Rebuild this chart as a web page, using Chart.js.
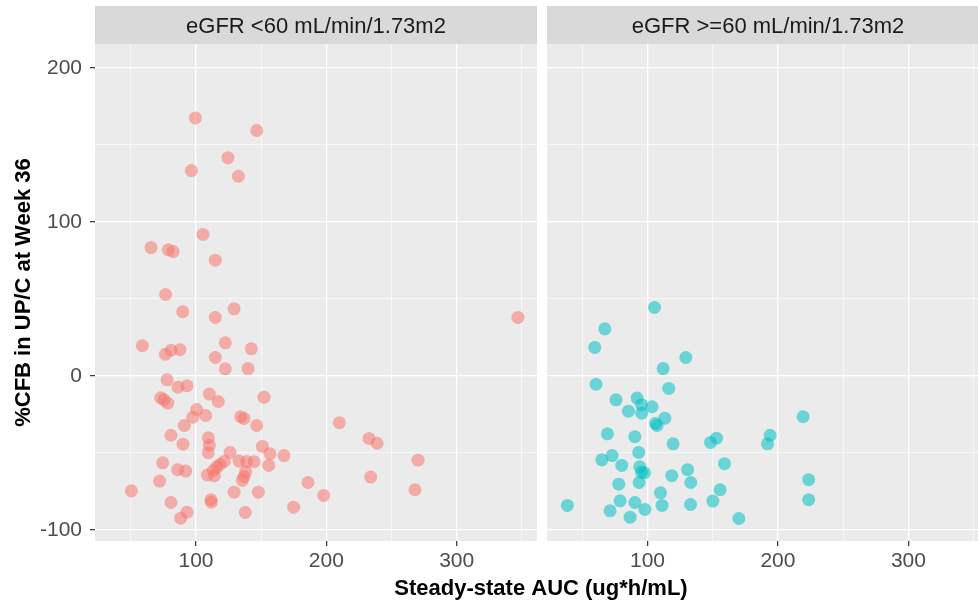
<!DOCTYPE html>
<html>
<head>
<meta charset="utf-8">
<script src="https://cdn.jsdelivr.net/npm/chart.js@4/dist/chart.umd.min.js"></script>
<style>
  body { margin: 0; background: white; }
  #wrap { position: relative; width: 978px; height: 602px; }
  #wrap canvas { position: absolute; left: 0; top: 0; }
</style>
</head>
<body>
<div id="wrap">
  <canvas id="low" width="978" height="602"></canvas>
  <canvas id="high" width="978" height="602"></canvas>
</div>
<script>
// eGFR <60 panel
var lowAuc = [99.5, 146.6, 124.5, 96.4, 132.5, 105.4, 65.5, 78.8, 82.4, 114.8,
  76.7, 89.8, 114.8, 129.2, 58.8, 76.5, 80.8, 87.7, 122.5, 114.8,
  142.4, 122.5, 139.9, 77.8, 86.2, 93.1, 110.2, 117.1, 152.2, 72.9,
  75.5, 78.3, 100.5, 97.5, 107.4, 134.3, 136.8, 146.6, 91.0, 80.8,
  90.0, 109.4, 110.2, 109.4, 150.9, 156.8, 167.5, 126.1, 133.0, 138.9,
  144.5, 121.7, 118.4, 115.9, 113.3, 155.8, 74.4, 85.9, 92.1, 108.7,
  114.1, 138.1, 136.8, 135.5, 72.1, 50.4, 129.2, 147.8, 185.9, 197.9,
  80.8, 111.5, 111.7, 174.9, 93.1, 88.2, 137.8, 347.0, 210.0, 232.7,
  238.9, 270.3, 234.0, 268.0];
var lowCfb = [167.5, 159.3, 141.6, 133.3, 129.6, 91.8, 83.3, 81.8, 80.7, 75.1,
  52.8, 41.6, 37.9, 43.5, 19.5, 14.0, 16.6, 16.9, 21.4, 11.9,
  17.5, 4.5, 4.7, -2.6, -7.4, -6.5, -11.9, -16.7, -13.9, -14.3,
  -15.6, -17.8, -21.9, -26.9, -25.8, -26.6, -27.7, -32.3, -32.3, -38.6,
  -44.4, -40.3, -45.1, -50.0, -45.9, -50.6, -51.8, -49.8, -55.4, -55.6,
  -55.8, -55.6, -57.6, -59.3, -61.5, -58.2, -56.5, -61.0, -61.9, -64.5,
  -64.9, -62.3, -65.4, -68.0, -68.4, -74.7, -75.6, -75.6, -69.3, -77.7,
  -82.3, -80.5, -82.1, -85.3, -88.6, -92.5, -88.8, 37.9, -30.5, -40.7,
  -43.8, -54.8, -65.8, -74.0];

// eGFR >=60 panel
var highAuc = [105.4, 67.3, 59.6, 129.4, 112.0, 60.6, 116.3, 75.9, 92.0, 95.4,
  103.5, 85.4, 95.6, 113.3, 106.1, 107.4, 219.3, 69.3, 90.3, 119.6,
  148.3, 152.9, 192.0, 194.0, 93.3, 72.9, 65.0, 80.3, 94.1, 95.4,
  97.7, 159.0, 130.7, 118.6, 133.2, 93.6, 78.0, 223.5, 155.7, 110.0,
  223.5, 38.6, 79.0, 90.3, 111.2, 133.0, 150.1, 71.3, 98.0, 86.7,
  170.0];
var highCfb = [44.4, 30.5, 18.4, 11.9, 4.7, -5.5, -8.2, -15.6, -14.5, -18.8,
  -20.1, -23.0, -24.3, -27.5, -31.0, -32.3, -26.6, -37.7, -39.6, -44.2,
  -43.3, -40.5, -44.2, -38.6, -49.8, -51.8, -54.6, -58.2, -59.1, -62.6,
  -63.0, -57.1, -61.0, -64.9, -69.3, -69.3, -70.4, -67.5, -74.0, -76.0,
  -80.5, -84.2, -81.2, -82.3, -84.2, -83.6, -81.4, -87.7, -86.8, -91.8,
  -92.7];

var xTicks = [50, 100, 150, 200, 250, 300, 350];
var xLabels = [100, 200, 300];
var yTicks = [-100, -50, 0, 50, 100, 150, 200];
var yLabels = [-100, 0, 100, 200];

var FONT = '"Liberation Sans", Arial, sans-serif';

function toPoints(xs, ys) {
  return xs.map(function (x, i) { return {x: x, y: ys[i]}; });
}

var facet = {
  id: 'facet',
  beforeDraw: function (chart, args, opts) {
    var ctx = chart.ctx, a = chart.chartArea;
    ctx.save();
    ctx.fillStyle = '#EBEBEB';
    ctx.fillRect(a.left, a.top, a.right - a.left, a.bottom - a.top);
    ctx.fillStyle = '#D9D9D9';
    ctx.fillRect(a.left, 6, a.right - a.left, a.top - 6);
    ctx.fillStyle = '#1A1A1A';
    ctx.font = '22px ' + FONT;
    ctx.textAlign = 'center';
    ctx.textBaseline = 'middle';
    ctx.fillText(opts.label, opts.cx, 27);
    if (opts.xTitle) {
      ctx.fillStyle = '#000';
      ctx.font = 'bold 22px ' + FONT;
      ctx.fillText(opts.xTitle, 541, 589);
    }
    ctx.restore();
  }
};

function gridWidth(c) {
  return c.tick && c.tick.value % 100 === 0 ? 1.3 : 0.6;
}
function tickCol(c) {
  return c.tick && c.tick.value % 100 === 0 ? '#333333' : 'rgba(0,0,0,0)';
}

function scales(xmin, xmax, showY) {
  return {
    x: {
      type: 'linear', min: xmin, max: xmax,
      afterBuildTicks: function (s) { s.ticks = xTicks.map(function (v) { return {value: v}; }); },
      afterFit: function (s) { s.height = 61; s.paddingLeft = 0; s.paddingRight = 0; },
      border: { display: false },
      grid: { color: 'white', lineWidth: gridWidth, tickColor: tickCol, tickWidth: 1.2, tickLength: 5 },
      ticks: {
        color: '#4D4D4D', font: { family: FONT, size: 21 }, padding: 3, maxRotation: 0,
        callback: function (v) { return xLabels.indexOf(v) >= 0 ? String(v) : ''; }
      }
    },
    y: {
      type: 'linear', min: -107.3, max: 215.5,
      afterBuildTicks: function (s) { s.ticks = yTicks.map(function (v) { return {value: v}; }); },
      afterFit: function (s) { s.width = showY ? 95 : 0; s.paddingTop = 0; s.paddingBottom = 0; },
      border: { display: false },
      grid: { color: 'white', lineWidth: gridWidth, tickColor: tickCol, tickWidth: 1.2,
              tickLength: 5, drawTicks: showY },
      title: {
        display: showY, text: '%CFB in UP/C at Week 36', color: '#000',
        font: { family: FONT, size: 22, weight: 'bold' }, padding: { top: 11, bottom: 0 }
      },
      ticks: {
        display: showY, color: '#4D4D4D', font: { family: FONT, size: 21 }, padding: 8,
        callback: function (v) { return yLabels.indexOf(v) >= 0 ? String(v) : ''; }
      }
    }
  };
}

new Chart(document.getElementById('low'), {
  type: 'scatter',
  data: {
    datasets: [{
      label: 'eGFR <60',
      data: toPoints(lowAuc, lowCfb),
      pointRadius: 6.5,
      borderWidth: 0,
      backgroundColor: 'rgba(248,118,109,0.55)'
    }]
  },
  options: {
    responsive: false, animation: false, devicePixelRatio: 1,
    layout: { autoPadding: false, padding: { left: 0, right: 441, top: 44, bottom: 0 } },
    plugins: {
      legend: { display: false }, tooltip: { enabled: false },
      facet: { label: 'eGFR <60 mL/min/1.73m2', cx: 316, xTitle: 'Steady-state AUC (ug*h/mL)' }
    },
    scales: scales(22.5, 361.6, true)
  },
  plugins: [facet]
});

new Chart(document.getElementById('high'), {
  type: 'scatter',
  data: {
    datasets: [{
      label: 'eGFR >=60',
      data: toPoints(highAuc, highCfb),
      pointRadius: 6.5,
      borderWidth: 0,
      backgroundColor: 'rgba(0,191,196,0.55)'
    }]
  },
  options: {
    responsive: false, animation: false, devicePixelRatio: 1,
    layout: { autoPadding: false, padding: { left: 547, right: 0, top: 44, bottom: 0 } },
    plugins: {
      legend: { display: false }, tooltip: { enabled: false },
      facet: { label: 'eGFR >=60 mL/min/1.73m2', cx: 768 }
    },
    scales: scales(23, 353.3, false)
  },
  plugins: [facet]
});
</script>
</body>
</html>
